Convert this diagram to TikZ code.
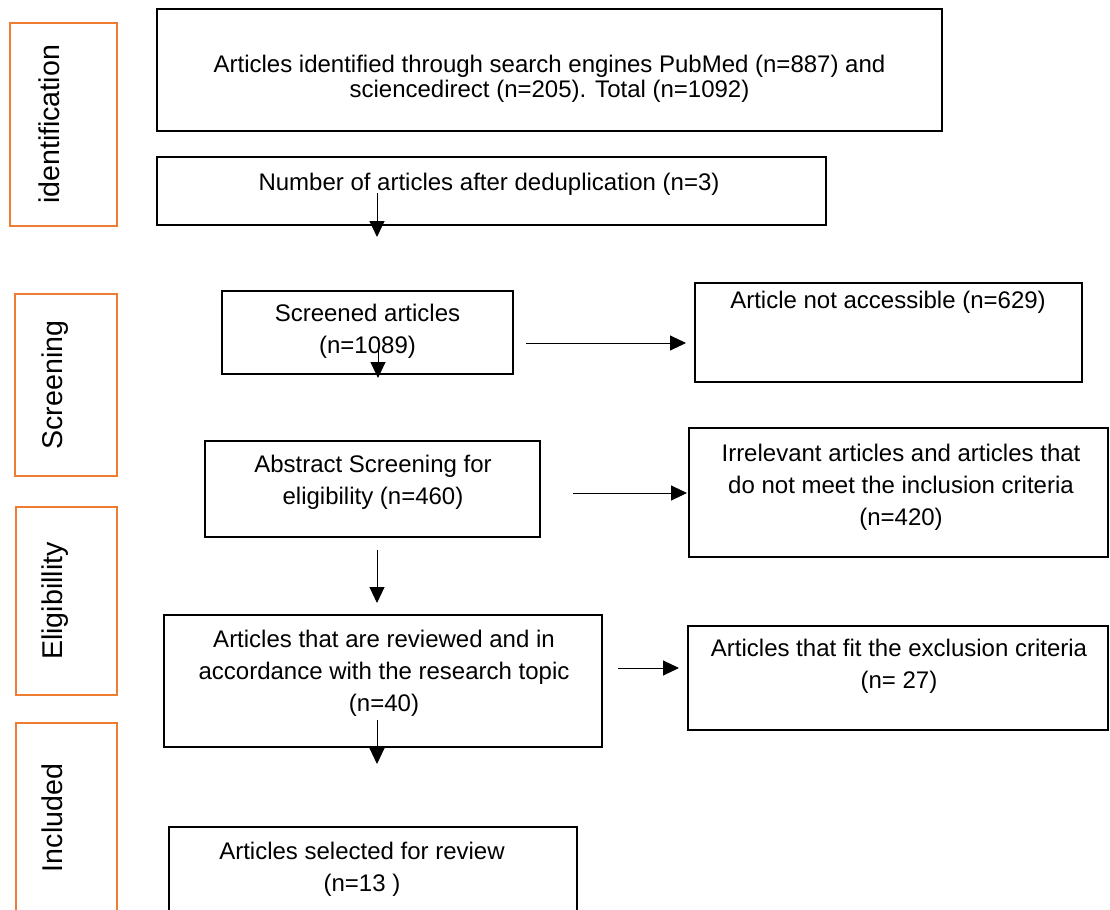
\documentclass[tikz,border=0pt]{standalone}
\usepackage{fontspec}
\setmainfont{Liberation Sans}
\usepackage{tikz}
\usetikzlibrary{arrows.meta,positioning}
\definecolor{stageorange}{RGB}{237,125,49}
\tikzstyle{block} = [draw, line width=0.8pt, rectangle, inner sep=0pt]
\tikzstyle{stage} = [draw=stageorange, line width=1.3pt, rectangle, inner sep=0pt]
\tikzstyle{txt} = [align=center, inner sep=0pt, font=\fontsize{12}{16}\selectfont]
\tikzstyle{stagetxt} = [rotate=90, anchor=base, inner sep=0pt, font=\fontsize{14.3}{16}\selectfont]

\begin{document}
\begin{tikzpicture}[x=0.5pt, y=-0.5pt, >={Triangle[length=8pt,width=7.5pt]}]
\useasboundingbox (0,0) rectangle (1110,910);

% stage labels on the left
\node [stage, minimum width=53.5pt, minimum height=101.5pt] (idlab) at (63.5,124.5) {};
\node [stage, minimum width=51pt, minimum height=91pt] (scrlab) at (66,385) {};
\node [stage, minimum width=50.5pt, minimum height=94pt] (elilab) at (66.5,601) {};
\node [stage, minimum width=50.5pt, minimum height=96pt] (inclab) at (66.5,819) {};
\node [stagetxt] (idtxt) at (60,124.5) {identification};
\node [stagetxt] (scrtxt) at (62,385) {Screening};
\node [stagetxt] (elitxt) at (62,601) {Eligibillity};
\node [stagetxt] (inctxt) at (62,818) {Included};

% flow boxes
\node [block, minimum width=392.5pt, minimum height=61pt] (ident) at (549.5,70) {};
\node [block, minimum width=334.5pt, minimum height=34pt] (dedup) at (491.5,191) {};
\node [block, minimum width=145.5pt, minimum height=41.5pt] (screened) at (367.5,332.5) {};
\node [block, minimum width=193.5pt, minimum height=49.5pt] (notacc) at (888.5,332.5) {};
\node [block, minimum width=167.5pt, minimum height=48pt] (abstract) at (372.5,489) {};
\node [block, minimum width=209.5pt, minimum height=64.5pt] (irrel) at (898.5,492.5) {};
\node [block, minimum width=219pt, minimum height=66pt] (reviewed) at (383,681) {};
\node [block, minimum width=210pt, minimum height=52pt] (excl) at (898,678) {};
\node [block, minimum width=204pt, minimum height=44pt] (selected) at (373,871) {};

\node [txt, font=\fontsize{12}{12.5}\selectfont] (identtxt) at (549.5,79) {Articles identified through search engines PubMed (n=887) and\\sciencedirect (n=205). Total (n=1092)};
\node [txt] (deduptxt) at (489,184) {Number of articles after deduplication (n=3)};
\node [txt] (screenedtxt) at (367.5,331) {Screened articles\\(n=1089)};
\node [txt] (notacctxt) at (888,302) {Article not accessible (n=629)};
\node [txt] (abstracttxt) at (373,482.5) {Abstract Screening for\\eligibility (n=460)};
\node [txt] (irreltxt) at (901,487) {Irrelevant articles and articles that\\do not meet the inclusion criteria\\(n=420)};
\node [txt] (reviewedtxt) at (384,673) {Articles that are reviewed and in\\accordance with the research topic\\(n=40)};
\node [txt] (excltxt) at (899,666.5) {Articles that fit the exclusion criteria\\(n= 27)};
\node [txt] (selectedtxt) at (362,869) {Articles selected for review\\(n=13 )};

% arrow ends
\coordinate (d1) at (377,193);
\coordinate (d2) at (377,237);
\coordinate (s1) at (378,338);
\coordinate (s2) at (378,378);
\coordinate (h1) at (526,343);
\coordinate (h2) at (686,343);
\coordinate (a1) at (573,493);
\coordinate (a2) at (687,493);
\coordinate (v1) at (377,550);
\coordinate (v2) at (377,603);
\coordinate (r1) at (618,668);
\coordinate (r2) at (679,668);
\coordinate (w1) at (377,720);
\coordinate (w2) at (377,764);

\draw [->, line width=0.5pt] (d1) -- (d2);
\draw [->, line width=0.5pt] (s1) -- (s2);
\draw [->, line width=0.5pt] (h1) -- (h2);
\draw [->, line width=0.5pt] (a1) -- (a2);
\draw [->, line width=0.5pt] (v1) -- (v2);
\draw [->, line width=0.5pt] (r1) -- (r2);
\draw [->, line width=0.5pt] (w1) -- (w2);

\end{tikzpicture}
\end{document}
